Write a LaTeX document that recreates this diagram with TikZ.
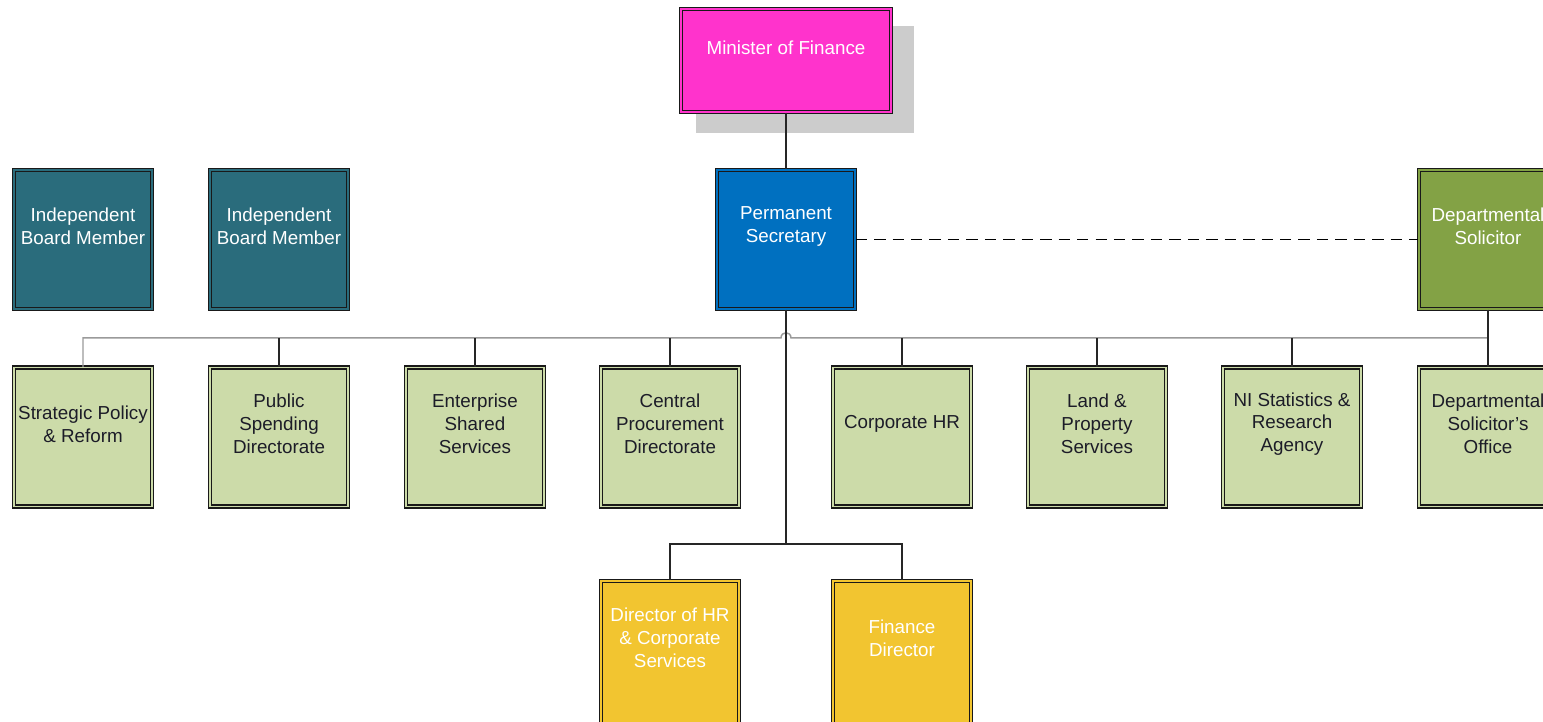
\documentclass[tikz,border=0pt]{standalone}
\usepackage{fontspec}
\setmainfont{Liberation Sans}
\usetikzlibrary{calc, positioning, shadows}
\definecolor{ministerpink}{HTML}{FF33CC}
\definecolor{boardteal}{HTML}{2A6C7C}
\definecolor{secblue}{HTML}{0070C0}
\definecolor{solgreen}{HTML}{83A245}
\definecolor{dirgreen}{HTML}{CCDBA9}
\definecolor{corpyellow}{HTML}{F2C530}
\definecolor{shadowgray}{HTML}{CCCCCC}
\definecolor{busgray}{HTML}{9A9A9A}
\definecolor{darktext}{HTML}{1C1C28}

\tikzset{
  orgbox/.style={draw=black!90, line width=0.8pt, double=#1, double distance=0.7pt,
    fill=#1, minimum width=2.76cm, minimum height=2.78cm, inner sep=0pt},
  boxtext/.style={align=center, font=\fontsize{10.7}{13}\selectfont, inner sep=0pt},
  conn/.style={draw=black!85, line width=0.85pt},
  busline/.style={draw=busgray, line width=0.85pt},
}

\begin{document}
\begin{tikzpicture}[x=0.02cm, y=-0.02cm]
        \clip (0,0) rectangle (1543,722);

        \node[orgbox=ministerpink, minimum width=4.2cm, minimum height=2.06cm,
          drop shadow={shadow xshift=0.36cm, shadow yshift=-0.36cm, shadow scale=1.04,
            fill=shadowgray, opacity=1}] (mof) at (786,60.5) {};
        \node[boxtext, white] (mof-t) at ($(mof)+(0,-13)$) {Minister of Finance};

        \node[orgbox=boardteal] (ibm1) at (83,239.5) {};
        \node[boxtext, white] (ibm1-t) at ($(ibm1)+(0,-13)$) {Independent\\Board Member};

        \node[orgbox=boardteal] (ibm2) at (279,239.5) {};
        \node[boxtext, white] (ibm2-t) at ($(ibm2)+(0,-13)$) {Independent\\Board Member};

        \node[orgbox=secblue] (ps) at (786,239.5) {};
        \node[boxtext, white] (ps-t) at ($(ps)+(0,-13)$) {Permanent\\Secretary};

        \node[orgbox=solgreen] (ds) at (1488,239.5) {};
        \node[boxtext, white] (ds-t) at ($(ds)+(0,-13)$) {Departmental\\Solicitor};

        \node[orgbox=dirgreen] (sp) at (83,437) {};
        \node[boxtext, darktext] (sp-t) at ($(sp)+(0,-13)$) {Strategic Policy\\\& Reform};

        \node[orgbox=dirgreen] (psd) at (279,437) {};
        \node[boxtext, darktext] (psd-t) at ($(psd)+(0,-13)$) {Public\\Spending\\Directorate};

        \node[orgbox=dirgreen] (ess) at (475,437) {};
        \node[boxtext, darktext] (ess-t) at ($(ess)+(0,-13)$) {Enterprise\\Shared\\Services};

        \node[orgbox=dirgreen] (cpd) at (670,437) {};
        \node[boxtext, darktext] (cpd-t) at ($(cpd)+(0,-13)$) {Central\\Procurement\\Directorate};

        \node[orgbox=dirgreen] (chr) at (902,437) {};
        \node[boxtext, darktext] (chr-t) at ($(chr)+(0,-13)$) {Corporate HR};

        \node[orgbox=dirgreen] (lps) at (1097,437) {};
        \node[boxtext, darktext] (lps-t) at ($(lps)+(0,-13)$) {Land \&\\Property\\Services};

        \node[orgbox=dirgreen] (nisra) at (1292,437) {};
        \node[boxtext, darktext] (nisra-t) at ($(nisra)+(0,-13)$) {NI Statistics \&\\Research\\Agency};

        \node[orgbox=dirgreen] (dso) at (1488,437) {};
        \node[boxtext, darktext] (dso-t) at ($(dso)+(0,-13)$) {Departmental\\Solicitor's\\Office};

        \node[orgbox=corpyellow, minimum height=2.96cm] (dhr) at (670,655) {};
        \node[boxtext, white] (dhr-t) at ($(dhr)+(0,-17)$) {Director of HR\\\& Corporate\\Services};

        \node[orgbox=corpyellow, minimum height=2.96cm] (fd) at (902,655) {};
        \node[boxtext, white] (fd-t) at ($(fd)+(0,-17)$) {Finance\\Director};

        \coordinate (bus) at (786,338);
        \coordinate (split) at (786,544);

        \draw[busline] (sp.north) |- ($(bus)+(-5,0)$)
          .. controls ($(bus)+(-5,-7)$) and ($(bus)+(5,-7)$) .. ($(bus)+(5,0)$) -- (bus -| ds.south);
        \foreach \n in {psd, ess, cpd, chr, lps, nisra}
          \draw[conn] (\n.north) -- (\n.north |- bus);
        \draw[conn] (ds.south) -- (dso.north);

        \draw[conn] (mof.south) -- (ps.north);
        \draw[conn, draw=black, line width=1pt, dash pattern=on 6.5pt off 4pt] (ps.east) -- (ds.west);
        \draw[conn] (ps.south) -- (split);
        \draw[conn] (dhr.north) |- (split) -| (fd.north);
    \end{tikzpicture}
\end{document}
